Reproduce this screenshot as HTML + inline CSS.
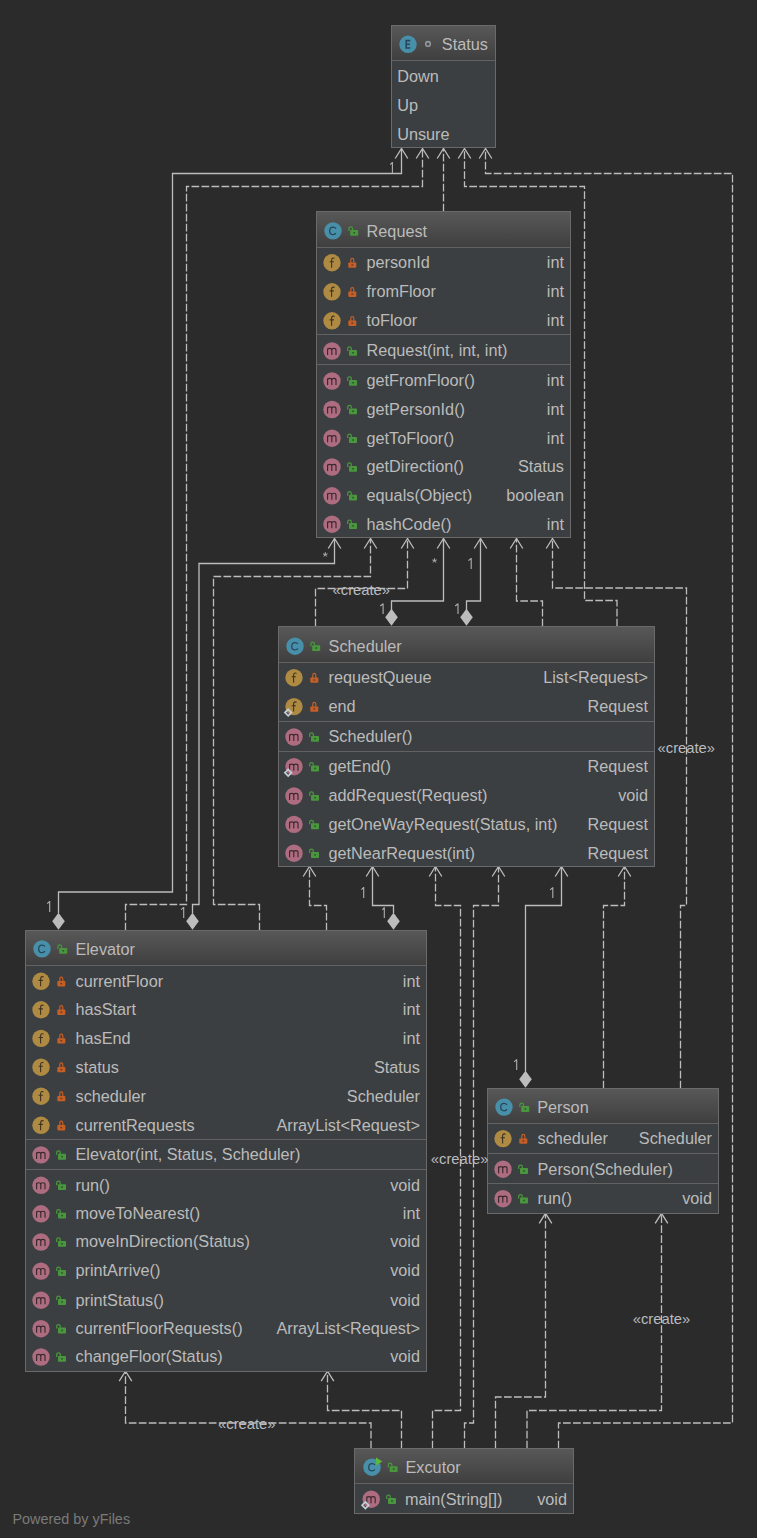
<!DOCTYPE html>
<html><head><meta charset="utf-8"><style>
html,body{margin:0;padding:0;}
body{width:757px;height:1538px;background:#2b2b2b;position:relative;overflow:hidden;font-family:"Liberation Sans",sans-serif;}
.box{position:absolute;box-sizing:border-box;border:1px solid #6a6a6a;background:#3c3f41;}
.hdr{position:absolute;background:linear-gradient(#585858,#3f3f3f);}
.sep{position:absolute;height:1px;background:#626262;}
.t{position:absolute;font-size:16.25px;line-height:20px;color:#bbbbbb;white-space:nowrap;letter-spacing:0px;}
.r{text-align:right;}
.lbl{position:absolute;color:#b9bcc0;line-height:18px;white-space:nowrap;}
svg{position:absolute;left:0;top:0;}
.pw{position:absolute;left:12.5px;top:1510.5px;font-size:14.4px;color:#7a7a7a;line-height:16px;}
</style></head><body>
<svg width="757" height="1538" style="z-index:0"><path d="M58.5 913 L58.5 892 L172.5 892 L172.5 173.5 L401.5 173.5 L401.5 148.5" fill="none" stroke="#bdbdbd" stroke-width="1.3"/><path d="M395.2 158.5 L401.5 148.5 L407.8 158.5" fill="none" stroke="#bdbdbd" stroke-width="1.3"/><path d="M58.5 912.7 L64.8 921.2 L58.5 929.7 L52.2 921.2 Z" fill="#bdbdbd"/><path d="M125.5 930.5 L125.5 904.5 L186.5 904.5 L186.5 186.5 L422.5 186.5 L422.5 148.5" fill="none" stroke="#bdbdbd" stroke-width="1.3" stroke-dasharray="7.7 2.3"/><path d="M416.2 158.5 L422.5 148.5 L428.8 158.5" fill="none" stroke="#bdbdbd" stroke-width="1.3"/><path d="M443.5 211.5 L443.5 148.5" fill="none" stroke="#bdbdbd" stroke-width="1.3" stroke-dasharray="7.7 2.3"/><path d="M437.2 158.5 L443.5 148.5 L449.8 158.5" fill="none" stroke="#bdbdbd" stroke-width="1.3"/><path d="M617 626.5 L617 600.5 L584.5 600.5 L584.5 186.5 L464.5 186.5 L464.5 148.5" fill="none" stroke="#bdbdbd" stroke-width="1.3" stroke-dasharray="7.7 2.3"/><path d="M458.2 158.5 L464.5 148.5 L470.8 158.5" fill="none" stroke="#bdbdbd" stroke-width="1.3"/><path d="M558.5 1448.5 L558.5 1423 L732.5 1423 L732.5 173.5 L485.5 173.5 L485.5 148.5" fill="none" stroke="#bdbdbd" stroke-width="1.3" stroke-dasharray="7.7 2.3"/><path d="M479.2 158.5 L485.5 148.5 L491.8 158.5" fill="none" stroke="#bdbdbd" stroke-width="1.3"/><path d="M192.5 913 L192.5 904.5 L199 904.5 L199 563.5 L334.5 563.5 L334.5 538.5" fill="none" stroke="#bdbdbd" stroke-width="1.3"/><path d="M328.2 548.5 L334.5 538.5 L340.8 548.5" fill="none" stroke="#bdbdbd" stroke-width="1.3"/><path d="M192.5 912.7 L198.8 921.2 L192.5 929.7 L186.2 921.2 Z" fill="#bdbdbd"/><path d="M259.5 930.5 L259.5 904.5 L213.5 904.5 L213.5 576.5 L370.5 576.5 L370.5 538.5" fill="none" stroke="#bdbdbd" stroke-width="1.3" stroke-dasharray="7.7 2.3"/><path d="M364.2 548.5 L370.5 538.5 L376.8 548.5" fill="none" stroke="#bdbdbd" stroke-width="1.3"/><path d="M315.5 626.5 L315.5 588.5 L407.5 588.5 L407.5 538.5" fill="none" stroke="#bdbdbd" stroke-width="1.3" stroke-dasharray="7.7 2.3"/><path d="M401.2 548.5 L407.5 538.5 L413.8 548.5" fill="none" stroke="#bdbdbd" stroke-width="1.3"/><path d="M391.5 610 L391.5 601 L443.5 601 L443.5 538.5" fill="none" stroke="#bdbdbd" stroke-width="1.3"/><path d="M437.2 548.5 L443.5 538.5 L449.8 548.5" fill="none" stroke="#bdbdbd" stroke-width="1.3"/><path d="M391.5 608.7 L397.8 617.2 L391.5 625.7 L385.2 617.2 Z" fill="#bdbdbd"/><path d="M466.5 610 L466.5 601 L480.5 601 L480.5 538.5" fill="none" stroke="#bdbdbd" stroke-width="1.3"/><path d="M474.2 548.5 L480.5 538.5 L486.8 548.5" fill="none" stroke="#bdbdbd" stroke-width="1.3"/><path d="M466.5 608.7 L472.8 617.2 L466.5 625.7 L460.2 617.2 Z" fill="#bdbdbd"/><path d="M542.5 626.5 L542.5 601 L516.5 601 L516.5 538.5" fill="none" stroke="#bdbdbd" stroke-width="1.3" stroke-dasharray="7.7 2.3"/><path d="M510.2 548.5 L516.5 538.5 L522.8 548.5" fill="none" stroke="#bdbdbd" stroke-width="1.3"/><path d="M680.5 1088.5 L680.5 905.5 L686.5 905.5 L686.5 588 L552.5 588 L552.5 538.5" fill="none" stroke="#bdbdbd" stroke-width="1.3" stroke-dasharray="7.7 2.3"/><path d="M546.2 548.5 L552.5 538.5 L558.8 548.5" fill="none" stroke="#bdbdbd" stroke-width="1.3"/><path d="M326.5 930.5 L326.5 905.5 L309.5 905.5 L309.5 866.5" fill="none" stroke="#bdbdbd" stroke-width="1.3" stroke-dasharray="7.7 2.3"/><path d="M303.2 876.5 L309.5 866.5 L315.8 876.5" fill="none" stroke="#bdbdbd" stroke-width="1.3"/><path d="M393.5 913 L393.5 905.5 L372.5 905.5 L372.5 866.5" fill="none" stroke="#bdbdbd" stroke-width="1.3"/><path d="M366.2 876.5 L372.5 866.5 L378.8 876.5" fill="none" stroke="#bdbdbd" stroke-width="1.3"/><path d="M393.5 912.7 L399.8 921.2 L393.5 929.7 L387.2 921.2 Z" fill="#bdbdbd"/><path d="M432.5 1448.5 L432.5 1410.5 L460.5 1410.5 L460.5 905.5 L435.5 905.5 L435.5 866.5" fill="none" stroke="#bdbdbd" stroke-width="1.3" stroke-dasharray="7.7 2.3"/><path d="M429.2 876.5 L435.5 866.5 L441.8 876.5" fill="none" stroke="#bdbdbd" stroke-width="1.3"/><path d="M464.5 1448.5 L464.5 1423 L473.5 1423 L473.5 905.5 L498.5 905.5 L498.5 866.5" fill="none" stroke="#bdbdbd" stroke-width="1.3" stroke-dasharray="7.7 2.3"/><path d="M492.2 876.5 L498.5 866.5 L504.8 876.5" fill="none" stroke="#bdbdbd" stroke-width="1.3"/><path d="M525.5 1071.5 L525.5 905.5 L561.5 905.5 L561.5 866.5" fill="none" stroke="#bdbdbd" stroke-width="1.3"/><path d="M555.2 876.5 L561.5 866.5 L567.8 876.5" fill="none" stroke="#bdbdbd" stroke-width="1.3"/><path d="M525.5 1070.7 L531.8 1079.2 L525.5 1087.7 L519.2 1079.2 Z" fill="#bdbdbd"/><path d="M603.5 1088.5 L603.5 905.5 L624.5 905.5 L624.5 866.5" fill="none" stroke="#bdbdbd" stroke-width="1.3" stroke-dasharray="7.7 2.3"/><path d="M618.2 876.5 L624.5 866.5 L630.8 876.5" fill="none" stroke="#bdbdbd" stroke-width="1.3"/><path d="M495.5 1448.5 L495.5 1397 L545.5 1397 L545.5 1213.3" fill="none" stroke="#bdbdbd" stroke-width="1.3" stroke-dasharray="7.7 2.3"/><path d="M539.2 1223.3 L545.5 1213.3 L551.8 1223.3" fill="none" stroke="#bdbdbd" stroke-width="1.3"/><path d="M527 1448.5 L527 1410.5 L661.5 1410.5 L661.5 1213.3" fill="none" stroke="#bdbdbd" stroke-width="1.3" stroke-dasharray="7.7 2.3"/><path d="M655.2 1223.3 L661.5 1213.3 L667.8 1223.3" fill="none" stroke="#bdbdbd" stroke-width="1.3"/><path d="M371 1448.5 L371 1423 L125.5 1423 L125.5 1371.2" fill="none" stroke="#bdbdbd" stroke-width="1.3" stroke-dasharray="7.7 2.3"/><path d="M119.2 1381.2 L125.5 1371.2 L131.8 1381.2" fill="none" stroke="#bdbdbd" stroke-width="1.3"/><path d="M401.5 1448.5 L401.5 1410.5 L327.5 1410.5 L327.5 1371.2" fill="none" stroke="#bdbdbd" stroke-width="1.3" stroke-dasharray="7.7 2.3"/><path d="M321.2 1381.2 L327.5 1371.2 L333.8 1381.2" fill="none" stroke="#bdbdbd" stroke-width="1.3"/></svg>
<div style="position:absolute;left:0;top:0;width:757px;height:1538px;z-index:1"><div class="box" style="left:391px;top:25px;width:105px;height:123px"></div><div class="hdr" style="left:392px;top:26px;width:103px;height:34px"></div><div class="sep" style="left:392px;top:60px;width:103px"></div><div class="t" style="left:441.8px;top:34.4px">Status</div><div class="t" style="left:397.2px;top:65.89999999999999px">Down</div><div class="t" style="left:397.2px;top:94.89999999999999px">Up</div><div class="t" style="left:397.2px;top:123.89999999999999px">Unsure</div><div class="box" style="left:316px;top:211px;width:255px;height:327px"></div><div class="hdr" style="left:317px;top:212px;width:253px;height:35px"></div><div class="sep" style="left:317px;top:247px;width:253px"></div><div class="t" style="left:366.6px;top:221.0px">Request</div><div class="t" style="left:366.5px;top:252.0px">personId</div><div class="t r" style="right:193px;top:252.0px">int</div><div class="t" style="left:366.5px;top:281.1px">fromFloor</div><div class="t r" style="right:193px;top:281.1px">int</div><div class="t" style="left:366.5px;top:310.1px">toFloor</div><div class="t r" style="right:193px;top:310.1px">int</div><div class="sep" style="left:317px;top:334px;width:253px"></div><div class="t" style="left:366.5px;top:340.3px">Request(int, int, int)</div><div class="sep" style="left:317px;top:364px;width:253px"></div><div class="t" style="left:366.5px;top:370.3px">getFromFloor()</div><div class="t r" style="right:193px;top:370.3px">int</div><div class="t" style="left:366.5px;top:398.8px">getPersonId()</div><div class="t r" style="right:193px;top:398.8px">int</div><div class="t" style="left:366.5px;top:427.5px">getToFloor()</div><div class="t r" style="right:193px;top:427.5px">int</div><div class="t" style="left:366.5px;top:456.3px">getDirection()</div><div class="t r" style="right:193px;top:456.3px">Status</div><div class="t" style="left:366.5px;top:485.1px">equals(Object)</div><div class="t r" style="right:193px;top:485.1px">boolean</div><div class="t" style="left:366.5px;top:513.5px">hashCode()</div><div class="t r" style="right:193px;top:513.5px">int</div><div class="box" style="left:278px;top:626px;width:377px;height:241px"></div><div class="hdr" style="left:279px;top:627px;width:375px;height:35px"></div><div class="sep" style="left:279px;top:662px;width:375px"></div><div class="t" style="left:328.6px;top:636.3px">Scheduler</div><div class="t" style="left:328.5px;top:667.0px">requestQueue</div><div class="t r" style="right:109px;top:667.0px">List&lt;Request&gt;</div><div class="t" style="left:328.5px;top:695.9px">end</div><div class="t r" style="right:109px;top:695.9px">Request</div><div class="sep" style="left:279px;top:721px;width:375px"></div><div class="t" style="left:328.5px;top:726.3px">Scheduler()</div><div class="sep" style="left:279px;top:751px;width:375px"></div><div class="t" style="left:328.5px;top:756.0px">getEnd()</div><div class="t r" style="right:109px;top:756.0px">Request</div><div class="t" style="left:328.5px;top:785.3px">addRequest(Request)</div><div class="t r" style="right:109px;top:785.3px">void</div><div class="t" style="left:328.5px;top:813.6999999999999px">getOneWayRequest(Status, int)</div><div class="t r" style="right:109px;top:813.6999999999999px">Request</div><div class="t" style="left:328.5px;top:842.5px">getNearRequest(int)</div><div class="t r" style="right:109px;top:842.5px">Request</div><div class="box" style="left:25px;top:930px;width:402px;height:442px"></div><div class="hdr" style="left:26px;top:931px;width:400px;height:34px"></div><div class="sep" style="left:26px;top:965px;width:400px"></div><div class="t" style="left:75.4px;top:939.0px">Elevator</div><div class="t" style="left:75.5px;top:970.5999999999999px">currentFloor</div><div class="t r" style="right:337px;top:970.5999999999999px">int</div><div class="t" style="left:75.5px;top:999.0999999999999px">hasStart</div><div class="t r" style="right:337px;top:999.0999999999999px">int</div><div class="t" style="left:75.5px;top:1027.7px">hasEnd</div><div class="t r" style="right:337px;top:1027.7px">int</div><div class="t" style="left:75.5px;top:1056.5px">status</div><div class="t r" style="right:337px;top:1056.5px">Status</div><div class="t" style="left:75.5px;top:1085.5px">scheduler</div><div class="t r" style="right:337px;top:1085.5px">Scheduler</div><div class="t" style="left:75.5px;top:1114.6px">currentRequests</div><div class="t r" style="right:337px;top:1114.6px">ArrayList&lt;Request&gt;</div><div class="sep" style="left:26px;top:1139px;width:400px"></div><div class="t" style="left:75.5px;top:1144.2px">Elevator(int, Status, Scheduler)</div><div class="sep" style="left:26px;top:1169px;width:400px"></div><div class="t" style="left:75.5px;top:1174.6px">run()</div><div class="t r" style="right:337px;top:1174.6px">void</div><div class="t" style="left:75.5px;top:1203.1px">moveToNearest()</div><div class="t r" style="right:337px;top:1203.1px">int</div><div class="t" style="left:75.5px;top:1231.3px">moveInDirection(Status)</div><div class="t r" style="right:337px;top:1231.3px">void</div><div class="t" style="left:75.5px;top:1260.3999999999999px">printArrive()</div><div class="t r" style="right:337px;top:1260.3999999999999px">void</div><div class="t" style="left:75.5px;top:1289.5px">printStatus()</div><div class="t r" style="right:337px;top:1289.5px">void</div><div class="t" style="left:75.5px;top:1318.0px">currentFloorRequests()</div><div class="t r" style="right:337px;top:1318.0px">ArrayList&lt;Request&gt;</div><div class="t" style="left:75.5px;top:1346.3px">changeFloor(Status)</div><div class="t r" style="right:337px;top:1346.3px">void</div><div class="box" style="left:487px;top:1088px;width:232px;height:126px"></div><div class="hdr" style="left:488px;top:1089px;width:230px;height:34px"></div><div class="sep" style="left:488px;top:1123px;width:230px"></div><div class="t" style="left:537.2px;top:1097.2px">Person</div><div class="t" style="left:537.5px;top:1127.8999999999999px">scheduler</div><div class="t r" style="right:45px;top:1127.8999999999999px">Scheduler</div><div class="sep" style="left:488px;top:1153px;width:230px"></div><div class="t" style="left:537.5px;top:1158.5px">Person(Scheduler)</div><div class="sep" style="left:488px;top:1183px;width:230px"></div><div class="t" style="left:537.5px;top:1188.0px">run()</div><div class="t r" style="right:45px;top:1188.0px">void</div><div class="box" style="left:354px;top:1448px;width:220px;height:66px"></div><div class="hdr" style="left:355px;top:1449px;width:218px;height:34px"></div><div class="sep" style="left:355px;top:1483px;width:218px"></div><div class="t" style="left:405.5px;top:1457.3px">Excutor</div><div class="t" style="left:405px;top:1488.5px">main(String[])</div><div class="t r" style="right:190px;top:1488.5px">void</div></div>
<svg width="757" height="1538" style="z-index:2"><circle cx="408" cy="44.3" r="8.7" fill="#4890aa"/><path d="M410.3 40.599999999999994 H406.2 V48.0 H410.3 M406.2 44.199999999999996 H409.9" stroke="#27465a" stroke-width="1.6" fill="none"/><circle cx="428" cy="43.9" r="2.3" stroke="#8f979c" stroke-width="1.6" fill="none"/><circle cx="333" cy="230.9" r="8.7" fill="#4890aa"/><path d="M336.0 228.6 Q335.0 227.20000000000002 333.1 227.20000000000002 Q329.7 227.20000000000002 329.7 230.9 Q329.7 234.6 333.1 234.6 Q335.0 234.6 336.0 233.20000000000002" stroke="#27465a" stroke-width="1.25" fill="none"/><path d="M348.9 230.9 V228.6 Q348.9 226.9 350.7 226.9 Q352.5 226.9 352.5 228.6 V230.1" stroke="#4a963e" stroke-width="1.25" fill="none"/><rect x="350.2" y="229.9" width="8" height="5.9" rx="0.8" fill="#4a963e"/><rect x="353.4" y="232.0" width="1.7" height="1.5" fill="#2c5528"/><circle cx="332" cy="262.7" r="8.7" fill="#ae8a42"/><path d="M334.6 258.4 Q333.8 257.9 333 258.0 Q331.6 258.2 331.6 259.9 V267.7 M329.6 261.8 H333.9" stroke="#3e3422" stroke-width="1.1" fill="none"/><path d="M350.8 263.2 V260.3 Q350.8 258.45 352.3 258.45 Q353.8 258.45 353.8 260.3 V263.2" stroke="#c45f27" stroke-width="1.2" fill="none"/><rect x="348.3" y="262.5" width="8" height="5.3" rx="0.8" fill="#c45f27"/><rect x="351.40000000000003" y="264.3" width="1.8" height="1.4" fill="#6a3a22"/><circle cx="332" cy="291.8" r="8.7" fill="#ae8a42"/><path d="M334.6 287.5 Q333.8 287.0 333 287.1 Q331.6 287.3 331.6 289.0 V296.8 M329.6 290.90000000000003 H333.9" stroke="#3e3422" stroke-width="1.1" fill="none"/><path d="M350.8 292.3 V289.40000000000003 Q350.8 287.55 352.3 287.55 Q353.8 287.55 353.8 289.40000000000003 V292.3" stroke="#c45f27" stroke-width="1.2" fill="none"/><rect x="348.3" y="291.6" width="8" height="5.3" rx="0.8" fill="#c45f27"/><rect x="351.40000000000003" y="293.40000000000003" width="1.8" height="1.4" fill="#6a3a22"/><circle cx="332" cy="320.8" r="8.7" fill="#ae8a42"/><path d="M334.6 316.5 Q333.8 316.0 333 316.1 Q331.6 316.3 331.6 318.0 V325.8 M329.6 319.90000000000003 H333.9" stroke="#3e3422" stroke-width="1.1" fill="none"/><path d="M350.8 321.3 V318.40000000000003 Q350.8 316.55 352.3 316.55 Q353.8 316.55 353.8 318.40000000000003 V321.3" stroke="#c45f27" stroke-width="1.2" fill="none"/><rect x="348.3" y="320.6" width="8" height="5.3" rx="0.8" fill="#c45f27"/><rect x="351.40000000000003" y="322.40000000000003" width="1.8" height="1.4" fill="#6a3a22"/><circle cx="332" cy="351" r="8.7" fill="#ae6c80"/><path d="M327.6 355.0 V348.4 M327.6 350.0 Q327.6 348.4 329.6 348.4 Q331.8 348.4 331.8 350.2 V355.0 M331.8 350.0 Q331.8 348.4 333.8 348.4 Q336.0 348.4 336.0 350.2 V355.0" stroke="#3a282e" stroke-width="1.15" fill="none"/><path d="M347.7 350.9 V348.6 Q347.7 346.9 349.5 346.9 Q351.3 346.9 351.3 348.6 V350.1" stroke="#4a963e" stroke-width="1.25" fill="none"/><rect x="349.0" y="349.9" width="8" height="5.9" rx="0.8" fill="#4a963e"/><rect x="352.2" y="352.0" width="1.7" height="1.5" fill="#2c5528"/><circle cx="332" cy="381" r="8.7" fill="#ae6c80"/><path d="M327.6 385.0 V378.4 M327.6 380.0 Q327.6 378.4 329.6 378.4 Q331.8 378.4 331.8 380.2 V385.0 M331.8 380.0 Q331.8 378.4 333.8 378.4 Q336.0 378.4 336.0 380.2 V385.0" stroke="#3a282e" stroke-width="1.15" fill="none"/><path d="M347.7 380.9 V378.6 Q347.7 376.9 349.5 376.9 Q351.3 376.9 351.3 378.6 V380.1" stroke="#4a963e" stroke-width="1.25" fill="none"/><rect x="349.0" y="379.9" width="8" height="5.9" rx="0.8" fill="#4a963e"/><rect x="352.2" y="382.0" width="1.7" height="1.5" fill="#2c5528"/><circle cx="332" cy="409.5" r="8.7" fill="#ae6c80"/><path d="M327.6 413.5 V406.9 M327.6 408.5 Q327.6 406.9 329.6 406.9 Q331.8 406.9 331.8 408.7 V413.5 M331.8 408.5 Q331.8 406.9 333.8 406.9 Q336.0 406.9 336.0 408.7 V413.5" stroke="#3a282e" stroke-width="1.15" fill="none"/><path d="M347.7 409.4 V407.1 Q347.7 405.4 349.5 405.4 Q351.3 405.4 351.3 407.1 V408.6" stroke="#4a963e" stroke-width="1.25" fill="none"/><rect x="349.0" y="408.4" width="8" height="5.9" rx="0.8" fill="#4a963e"/><rect x="352.2" y="410.5" width="1.7" height="1.5" fill="#2c5528"/><circle cx="332" cy="438.2" r="8.7" fill="#ae6c80"/><path d="M327.6 442.2 V435.59999999999997 M327.6 437.2 Q327.6 435.59999999999997 329.6 435.59999999999997 Q331.8 435.59999999999997 331.8 437.4 V442.2 M331.8 437.2 Q331.8 435.59999999999997 333.8 435.59999999999997 Q336.0 435.59999999999997 336.0 437.4 V442.2" stroke="#3a282e" stroke-width="1.15" fill="none"/><path d="M347.7 438.09999999999997 V435.8 Q347.7 434.09999999999997 349.5 434.09999999999997 Q351.3 434.09999999999997 351.3 435.8 V437.3" stroke="#4a963e" stroke-width="1.25" fill="none"/><rect x="349.0" y="437.09999999999997" width="8" height="5.9" rx="0.8" fill="#4a963e"/><rect x="352.2" y="439.2" width="1.7" height="1.5" fill="#2c5528"/><circle cx="332" cy="467" r="8.7" fill="#ae6c80"/><path d="M327.6 471.0 V464.4 M327.6 466.0 Q327.6 464.4 329.6 464.4 Q331.8 464.4 331.8 466.2 V471.0 M331.8 466.0 Q331.8 464.4 333.8 464.4 Q336.0 464.4 336.0 466.2 V471.0" stroke="#3a282e" stroke-width="1.15" fill="none"/><path d="M347.7 466.9 V464.6 Q347.7 462.9 349.5 462.9 Q351.3 462.9 351.3 464.6 V466.1" stroke="#4a963e" stroke-width="1.25" fill="none"/><rect x="349.0" y="465.9" width="8" height="5.9" rx="0.8" fill="#4a963e"/><rect x="352.2" y="468.0" width="1.7" height="1.5" fill="#2c5528"/><circle cx="332" cy="495.8" r="8.7" fill="#ae6c80"/><path d="M327.6 499.8 V493.2 M327.6 494.8 Q327.6 493.2 329.6 493.2 Q331.8 493.2 331.8 495.0 V499.8 M331.8 494.8 Q331.8 493.2 333.8 493.2 Q336.0 493.2 336.0 495.0 V499.8" stroke="#3a282e" stroke-width="1.15" fill="none"/><path d="M347.7 495.7 V493.40000000000003 Q347.7 491.7 349.5 491.7 Q351.3 491.7 351.3 493.40000000000003 V494.90000000000003" stroke="#4a963e" stroke-width="1.25" fill="none"/><rect x="349.0" y="494.7" width="8" height="5.9" rx="0.8" fill="#4a963e"/><rect x="352.2" y="496.8" width="1.7" height="1.5" fill="#2c5528"/><circle cx="332" cy="524.2" r="8.7" fill="#ae6c80"/><path d="M327.6 528.2 V521.6 M327.6 523.2 Q327.6 521.6 329.6 521.6 Q331.8 521.6 331.8 523.4000000000001 V528.2 M331.8 523.2 Q331.8 521.6 333.8 521.6 Q336.0 521.6 336.0 523.4000000000001 V528.2" stroke="#3a282e" stroke-width="1.15" fill="none"/><path d="M347.7 524.1 V521.8000000000001 Q347.7 520.1 349.5 520.1 Q351.3 520.1 351.3 521.8000000000001 V523.3000000000001" stroke="#4a963e" stroke-width="1.25" fill="none"/><rect x="349.0" y="523.1" width="8" height="5.9" rx="0.8" fill="#4a963e"/><rect x="352.2" y="525.2" width="1.7" height="1.5" fill="#2c5528"/><circle cx="295" cy="646.1999999999999" r="8.7" fill="#4890aa"/><path d="M298.0 643.9 Q297.0 642.4999999999999 295.1 642.4999999999999 Q291.7 642.4999999999999 291.7 646.1999999999999 Q291.7 649.9 295.1 649.9 Q297.0 649.9 298.0 648.4999999999999" stroke="#27465a" stroke-width="1.25" fill="none"/><path d="M310.9 646.1999999999999 V643.9 Q310.9 642.1999999999999 312.7 642.1999999999999 Q314.5 642.1999999999999 314.5 643.9 V645.4" stroke="#4a963e" stroke-width="1.25" fill="none"/><rect x="312.2" y="645.1999999999999" width="8" height="5.9" rx="0.8" fill="#4a963e"/><rect x="315.4" y="647.3" width="1.7" height="1.5" fill="#2c5528"/><circle cx="294" cy="677.7" r="8.7" fill="#ae8a42"/><path d="M296.6 673.4000000000001 Q295.8 672.9000000000001 295 673.0 Q293.6 673.2 293.6 674.9000000000001 V682.7 M291.6 676.8000000000001 H295.9" stroke="#3e3422" stroke-width="1.1" fill="none"/><path d="M312.8 678.2 V675.3000000000001 Q312.8 673.45 314.3 673.45 Q315.8 673.45 315.8 675.3000000000001 V678.2" stroke="#c45f27" stroke-width="1.2" fill="none"/><rect x="310.3" y="677.5" width="8" height="5.3" rx="0.8" fill="#c45f27"/><rect x="313.40000000000003" y="679.3000000000001" width="1.8" height="1.4" fill="#6a3a22"/><circle cx="294" cy="706.6" r="8.7" fill="#ae8a42"/><path d="M296.6 702.3000000000001 Q295.8 701.8000000000001 295 701.9 Q293.6 702.1 293.6 703.8000000000001 V711.6 M291.6 705.7 H295.9" stroke="#3e3422" stroke-width="1.1" fill="none"/><path d="M312.8 707.1 V704.2 Q312.8 702.35 314.3 702.35 Q315.8 702.35 315.8 704.2 V707.1" stroke="#c45f27" stroke-width="1.2" fill="none"/><rect x="310.3" y="706.4" width="8" height="5.3" rx="0.8" fill="#c45f27"/><rect x="313.40000000000003" y="708.2" width="1.8" height="1.4" fill="#6a3a22"/><path d="M288.2 709.3000000000001 L291.5 712.6 L288.2 715.9 L284.9 712.6 Z" stroke="#c3ced6" stroke-width="1.7" fill="none"/><rect x="287.5" y="711.9" width="1.4" height="1.4" fill="#b56a78"/><circle cx="294" cy="737" r="8.7" fill="#ae6c80"/><path d="M289.6 741.0 V734.4 M289.6 736.0 Q289.6 734.4 291.6 734.4 Q293.8 734.4 293.8 736.2 V741.0 M293.8 736.0 Q293.8 734.4 295.8 734.4 Q298.0 734.4 298.0 736.2 V741.0" stroke="#3a282e" stroke-width="1.15" fill="none"/><path d="M309.7 736.9 V734.6 Q309.7 732.9 311.5 732.9 Q313.3 732.9 313.3 734.6 V736.1" stroke="#4a963e" stroke-width="1.25" fill="none"/><rect x="311.0" y="735.9" width="8" height="5.9" rx="0.8" fill="#4a963e"/><rect x="314.2" y="738.0" width="1.7" height="1.5" fill="#2c5528"/><circle cx="294" cy="766.7" r="8.7" fill="#ae6c80"/><path d="M289.6 770.7 V764.1 M289.6 765.7 Q289.6 764.1 291.6 764.1 Q293.8 764.1 293.8 765.9000000000001 V770.7 M293.8 765.7 Q293.8 764.1 295.8 764.1 Q298.0 764.1 298.0 765.9000000000001 V770.7" stroke="#3a282e" stroke-width="1.15" fill="none"/><path d="M309.7 766.6 V764.3000000000001 Q309.7 762.6 311.5 762.6 Q313.3 762.6 313.3 764.3000000000001 V765.8000000000001" stroke="#4a963e" stroke-width="1.25" fill="none"/><rect x="311.0" y="765.6" width="8" height="5.9" rx="0.8" fill="#4a963e"/><rect x="314.2" y="767.7" width="1.7" height="1.5" fill="#2c5528"/><path d="M288.2 769.4000000000001 L291.5 772.7 L288.2 776.0 L284.9 772.7 Z" stroke="#c3ced6" stroke-width="1.7" fill="none"/><rect x="287.5" y="772.0" width="1.4" height="1.4" fill="#b56a78"/><circle cx="294" cy="796" r="8.7" fill="#ae6c80"/><path d="M289.6 800.0 V793.4 M289.6 795.0 Q289.6 793.4 291.6 793.4 Q293.8 793.4 293.8 795.2 V800.0 M293.8 795.0 Q293.8 793.4 295.8 793.4 Q298.0 793.4 298.0 795.2 V800.0" stroke="#3a282e" stroke-width="1.15" fill="none"/><path d="M309.7 795.9 V793.6 Q309.7 791.9 311.5 791.9 Q313.3 791.9 313.3 793.6 V795.1" stroke="#4a963e" stroke-width="1.25" fill="none"/><rect x="311.0" y="794.9" width="8" height="5.9" rx="0.8" fill="#4a963e"/><rect x="314.2" y="797.0" width="1.7" height="1.5" fill="#2c5528"/><circle cx="294" cy="824.4" r="8.7" fill="#ae6c80"/><path d="M289.6 828.4 V821.8 M289.6 823.4 Q289.6 821.8 291.6 821.8 Q293.8 821.8 293.8 823.6 V828.4 M293.8 823.4 Q293.8 821.8 295.8 821.8 Q298.0 821.8 298.0 823.6 V828.4" stroke="#3a282e" stroke-width="1.15" fill="none"/><path d="M309.7 824.3 V822.0 Q309.7 820.3 311.5 820.3 Q313.3 820.3 313.3 822.0 V823.5" stroke="#4a963e" stroke-width="1.25" fill="none"/><rect x="311.0" y="823.3" width="8" height="5.9" rx="0.8" fill="#4a963e"/><rect x="314.2" y="825.4" width="1.7" height="1.5" fill="#2c5528"/><circle cx="294" cy="853.2" r="8.7" fill="#ae6c80"/><path d="M289.6 857.2 V850.6 M289.6 852.2 Q289.6 850.6 291.6 850.6 Q293.8 850.6 293.8 852.4000000000001 V857.2 M293.8 852.2 Q293.8 850.6 295.8 850.6 Q298.0 850.6 298.0 852.4000000000001 V857.2" stroke="#3a282e" stroke-width="1.15" fill="none"/><path d="M309.7 853.1 V850.8000000000001 Q309.7 849.1 311.5 849.1 Q313.3 849.1 313.3 850.8000000000001 V852.3000000000001" stroke="#4a963e" stroke-width="1.25" fill="none"/><rect x="311.0" y="852.1" width="8" height="5.9" rx="0.8" fill="#4a963e"/><rect x="314.2" y="854.2" width="1.7" height="1.5" fill="#2c5528"/><circle cx="42" cy="948.9" r="8.7" fill="#4890aa"/><path d="M45.0 946.6 Q44.0 945.1999999999999 42.1 945.1999999999999 Q38.7 945.1999999999999 38.7 948.9 Q38.7 952.6 42.1 952.6 Q44.0 952.6 45.0 951.1999999999999" stroke="#27465a" stroke-width="1.25" fill="none"/><path d="M57.900000000000006 948.9 V946.6 Q57.900000000000006 944.9 59.7 944.9 Q61.5 944.9 61.5 946.6 V948.1" stroke="#4a963e" stroke-width="1.25" fill="none"/><rect x="59.2" y="947.9" width="8" height="5.9" rx="0.8" fill="#4a963e"/><rect x="62.400000000000006" y="950.0" width="1.7" height="1.5" fill="#2c5528"/><circle cx="41" cy="981.3" r="8.7" fill="#ae8a42"/><path d="M43.6 977.0 Q42.8 976.5 42 976.5999999999999 Q40.6 976.8 40.6 978.5 V986.3 M38.6 980.4 H42.9" stroke="#3e3422" stroke-width="1.1" fill="none"/><path d="M59.8 981.8 V978.9 Q59.8 977.05 61.3 977.05 Q62.8 977.05 62.8 978.9 V981.8" stroke="#c45f27" stroke-width="1.2" fill="none"/><rect x="57.3" y="981.0999999999999" width="8" height="5.3" rx="0.8" fill="#c45f27"/><rect x="60.4" y="982.9" width="1.8" height="1.4" fill="#6a3a22"/><circle cx="41" cy="1009.8" r="8.7" fill="#ae8a42"/><path d="M43.6 1005.5 Q42.8 1005.0 42 1005.0999999999999 Q40.6 1005.3 40.6 1007.0 V1014.8 M38.6 1008.9 H42.9" stroke="#3e3422" stroke-width="1.1" fill="none"/><path d="M59.8 1010.3 V1007.4 Q59.8 1005.55 61.3 1005.55 Q62.8 1005.55 62.8 1007.4 V1010.3" stroke="#c45f27" stroke-width="1.2" fill="none"/><rect x="57.3" y="1009.5999999999999" width="8" height="5.3" rx="0.8" fill="#c45f27"/><rect x="60.4" y="1011.4" width="1.8" height="1.4" fill="#6a3a22"/><circle cx="41" cy="1038.4" r="8.7" fill="#ae8a42"/><path d="M43.6 1034.1000000000001 Q42.8 1033.6000000000001 42 1033.7 Q40.6 1033.9 40.6 1035.6000000000001 V1043.4 M38.6 1037.5 H42.9" stroke="#3e3422" stroke-width="1.1" fill="none"/><path d="M59.8 1038.9 V1036.0 Q59.8 1034.15 61.3 1034.15 Q62.8 1034.15 62.8 1036.0 V1038.9" stroke="#c45f27" stroke-width="1.2" fill="none"/><rect x="57.3" y="1038.2" width="8" height="5.3" rx="0.8" fill="#c45f27"/><rect x="60.4" y="1040.0" width="1.8" height="1.4" fill="#6a3a22"/><circle cx="41" cy="1067.2" r="8.7" fill="#ae8a42"/><path d="M43.6 1062.9 Q42.8 1062.4 42 1062.5 Q40.6 1062.7 40.6 1064.4 V1072.2 M38.6 1066.3 H42.9" stroke="#3e3422" stroke-width="1.1" fill="none"/><path d="M59.8 1067.7 V1064.8 Q59.8 1062.95 61.3 1062.95 Q62.8 1062.95 62.8 1064.8 V1067.7" stroke="#c45f27" stroke-width="1.2" fill="none"/><rect x="57.3" y="1067.0" width="8" height="5.3" rx="0.8" fill="#c45f27"/><rect x="60.4" y="1068.8" width="1.8" height="1.4" fill="#6a3a22"/><circle cx="41" cy="1096.2" r="8.7" fill="#ae8a42"/><path d="M43.6 1091.9 Q42.8 1091.4 42 1091.5 Q40.6 1091.7 40.6 1093.4 V1101.2 M38.6 1095.3 H42.9" stroke="#3e3422" stroke-width="1.1" fill="none"/><path d="M59.8 1096.7 V1093.8 Q59.8 1091.95 61.3 1091.95 Q62.8 1091.95 62.8 1093.8 V1096.7" stroke="#c45f27" stroke-width="1.2" fill="none"/><rect x="57.3" y="1096.0" width="8" height="5.3" rx="0.8" fill="#c45f27"/><rect x="60.4" y="1097.8" width="1.8" height="1.4" fill="#6a3a22"/><circle cx="41" cy="1125.3" r="8.7" fill="#ae8a42"/><path d="M43.6 1121.0 Q42.8 1120.5 42 1120.6 Q40.6 1120.8 40.6 1122.5 V1130.3 M38.6 1124.3999999999999 H42.9" stroke="#3e3422" stroke-width="1.1" fill="none"/><path d="M59.8 1125.8 V1122.8999999999999 Q59.8 1121.05 61.3 1121.05 Q62.8 1121.05 62.8 1122.8999999999999 V1125.8" stroke="#c45f27" stroke-width="1.2" fill="none"/><rect x="57.3" y="1125.1" width="8" height="5.3" rx="0.8" fill="#c45f27"/><rect x="60.4" y="1126.8999999999999" width="1.8" height="1.4" fill="#6a3a22"/><circle cx="41" cy="1154.9" r="8.7" fill="#ae6c80"/><path d="M36.6 1158.9 V1152.3000000000002 M36.6 1153.9 Q36.6 1152.3000000000002 38.6 1152.3000000000002 Q40.8 1152.3000000000002 40.8 1154.1000000000001 V1158.9 M40.8 1153.9 Q40.8 1152.3000000000002 42.8 1152.3000000000002 Q45.0 1152.3000000000002 45.0 1154.1000000000001 V1158.9" stroke="#3a282e" stroke-width="1.15" fill="none"/><path d="M56.7 1154.8000000000002 V1152.5 Q56.7 1150.8000000000002 58.5 1150.8000000000002 Q60.3 1150.8000000000002 60.3 1152.5 V1154.0" stroke="#4a963e" stroke-width="1.25" fill="none"/><rect x="58.0" y="1153.8000000000002" width="8" height="5.9" rx="0.8" fill="#4a963e"/><rect x="61.2" y="1155.9" width="1.7" height="1.5" fill="#2c5528"/><circle cx="41" cy="1185.3" r="8.7" fill="#ae6c80"/><path d="M36.6 1189.3 V1182.7 M36.6 1184.3 Q36.6 1182.7 38.6 1182.7 Q40.8 1182.7 40.8 1184.5 V1189.3 M40.8 1184.3 Q40.8 1182.7 42.8 1182.7 Q45.0 1182.7 45.0 1184.5 V1189.3" stroke="#3a282e" stroke-width="1.15" fill="none"/><path d="M56.7 1185.2 V1182.8999999999999 Q56.7 1181.2 58.5 1181.2 Q60.3 1181.2 60.3 1182.8999999999999 V1184.3999999999999" stroke="#4a963e" stroke-width="1.25" fill="none"/><rect x="58.0" y="1184.2" width="8" height="5.9" rx="0.8" fill="#4a963e"/><rect x="61.2" y="1186.3" width="1.7" height="1.5" fill="#2c5528"/><circle cx="41" cy="1213.8" r="8.7" fill="#ae6c80"/><path d="M36.6 1217.8 V1211.2 M36.6 1212.8 Q36.6 1211.2 38.6 1211.2 Q40.8 1211.2 40.8 1213.0 V1217.8 M40.8 1212.8 Q40.8 1211.2 42.8 1211.2 Q45.0 1211.2 45.0 1213.0 V1217.8" stroke="#3a282e" stroke-width="1.15" fill="none"/><path d="M56.7 1213.7 V1211.3999999999999 Q56.7 1209.7 58.5 1209.7 Q60.3 1209.7 60.3 1211.3999999999999 V1212.8999999999999" stroke="#4a963e" stroke-width="1.25" fill="none"/><rect x="58.0" y="1212.7" width="8" height="5.9" rx="0.8" fill="#4a963e"/><rect x="61.2" y="1214.8" width="1.7" height="1.5" fill="#2c5528"/><circle cx="41" cy="1242" r="8.7" fill="#ae6c80"/><path d="M36.6 1246.0 V1239.4 M36.6 1241.0 Q36.6 1239.4 38.6 1239.4 Q40.8 1239.4 40.8 1241.2 V1246.0 M40.8 1241.0 Q40.8 1239.4 42.8 1239.4 Q45.0 1239.4 45.0 1241.2 V1246.0" stroke="#3a282e" stroke-width="1.15" fill="none"/><path d="M56.7 1241.9 V1239.6 Q56.7 1237.9 58.5 1237.9 Q60.3 1237.9 60.3 1239.6 V1241.1" stroke="#4a963e" stroke-width="1.25" fill="none"/><rect x="58.0" y="1240.9" width="8" height="5.9" rx="0.8" fill="#4a963e"/><rect x="61.2" y="1243.0" width="1.7" height="1.5" fill="#2c5528"/><circle cx="41" cy="1271.1" r="8.7" fill="#ae6c80"/><path d="M36.6 1275.1 V1268.5 M36.6 1270.1 Q36.6 1268.5 38.6 1268.5 Q40.8 1268.5 40.8 1270.3 V1275.1 M40.8 1270.1 Q40.8 1268.5 42.8 1268.5 Q45.0 1268.5 45.0 1270.3 V1275.1" stroke="#3a282e" stroke-width="1.15" fill="none"/><path d="M56.7 1271.0 V1268.6999999999998 Q56.7 1267.0 58.5 1267.0 Q60.3 1267.0 60.3 1268.6999999999998 V1270.1999999999998" stroke="#4a963e" stroke-width="1.25" fill="none"/><rect x="58.0" y="1270.0" width="8" height="5.9" rx="0.8" fill="#4a963e"/><rect x="61.2" y="1272.1" width="1.7" height="1.5" fill="#2c5528"/><circle cx="41" cy="1300.2" r="8.7" fill="#ae6c80"/><path d="M36.6 1304.2 V1297.6000000000001 M36.6 1299.2 Q36.6 1297.6000000000001 38.6 1297.6000000000001 Q40.8 1297.6000000000001 40.8 1299.4 V1304.2 M40.8 1299.2 Q40.8 1297.6000000000001 42.8 1297.6000000000001 Q45.0 1297.6000000000001 45.0 1299.4 V1304.2" stroke="#3a282e" stroke-width="1.15" fill="none"/><path d="M56.7 1300.1000000000001 V1297.8 Q56.7 1296.1000000000001 58.5 1296.1000000000001 Q60.3 1296.1000000000001 60.3 1297.8 V1299.3" stroke="#4a963e" stroke-width="1.25" fill="none"/><rect x="58.0" y="1299.1000000000001" width="8" height="5.9" rx="0.8" fill="#4a963e"/><rect x="61.2" y="1301.2" width="1.7" height="1.5" fill="#2c5528"/><circle cx="41" cy="1328.7" r="8.7" fill="#ae6c80"/><path d="M36.6 1332.7 V1326.1000000000001 M36.6 1327.7 Q36.6 1326.1000000000001 38.6 1326.1000000000001 Q40.8 1326.1000000000001 40.8 1327.9 V1332.7 M40.8 1327.7 Q40.8 1326.1000000000001 42.8 1326.1000000000001 Q45.0 1326.1000000000001 45.0 1327.9 V1332.7" stroke="#3a282e" stroke-width="1.15" fill="none"/><path d="M56.7 1328.6000000000001 V1326.3 Q56.7 1324.6000000000001 58.5 1324.6000000000001 Q60.3 1324.6000000000001 60.3 1326.3 V1327.8" stroke="#4a963e" stroke-width="1.25" fill="none"/><rect x="58.0" y="1327.6000000000001" width="8" height="5.9" rx="0.8" fill="#4a963e"/><rect x="61.2" y="1329.7" width="1.7" height="1.5" fill="#2c5528"/><circle cx="41" cy="1357" r="8.7" fill="#ae6c80"/><path d="M36.6 1361.0 V1354.4 M36.6 1356.0 Q36.6 1354.4 38.6 1354.4 Q40.8 1354.4 40.8 1356.2 V1361.0 M40.8 1356.0 Q40.8 1354.4 42.8 1354.4 Q45.0 1354.4 45.0 1356.2 V1361.0" stroke="#3a282e" stroke-width="1.15" fill="none"/><path d="M56.7 1356.9 V1354.6 Q56.7 1352.9 58.5 1352.9 Q60.3 1352.9 60.3 1354.6 V1356.1" stroke="#4a963e" stroke-width="1.25" fill="none"/><rect x="58.0" y="1355.9" width="8" height="5.9" rx="0.8" fill="#4a963e"/><rect x="61.2" y="1358.0" width="1.7" height="1.5" fill="#2c5528"/><circle cx="504" cy="1107.1000000000001" r="8.7" fill="#4890aa"/><path d="M507.0 1104.8000000000002 Q506.0 1103.4 504.1 1103.4 Q500.7 1103.4 500.7 1107.1000000000001 Q500.7 1110.8000000000002 504.1 1110.8000000000002 Q506.0 1110.8000000000002 507.0 1109.4" stroke="#27465a" stroke-width="1.25" fill="none"/><path d="M519.9000000000001 1107.1000000000001 V1104.8 Q519.9000000000001 1103.1000000000001 521.7 1103.1000000000001 Q523.5 1103.1000000000001 523.5 1104.8 V1106.3" stroke="#4a963e" stroke-width="1.25" fill="none"/><rect x="521.2" y="1106.1000000000001" width="8" height="5.9" rx="0.8" fill="#4a963e"/><rect x="524.4000000000001" y="1108.2" width="1.7" height="1.5" fill="#2c5528"/><circle cx="503" cy="1138.6" r="8.7" fill="#ae8a42"/><path d="M505.6 1134.3 Q504.8 1133.8 504 1133.8999999999999 Q502.6 1134.1 502.6 1135.8 V1143.6 M500.6 1137.6999999999998 H504.9" stroke="#3e3422" stroke-width="1.1" fill="none"/><path d="M521.8 1139.1 V1136.1999999999998 Q521.8 1134.35 523.3 1134.35 Q524.8 1134.35 524.8 1136.1999999999998 V1139.1" stroke="#c45f27" stroke-width="1.2" fill="none"/><rect x="519.3" y="1138.3999999999999" width="8" height="5.3" rx="0.8" fill="#c45f27"/><rect x="522.4" y="1140.1999999999998" width="1.8" height="1.4" fill="#6a3a22"/><circle cx="503" cy="1169.2" r="8.7" fill="#ae6c80"/><path d="M498.6 1173.2 V1166.6000000000001 M498.6 1168.2 Q498.6 1166.6000000000001 500.6 1166.6000000000001 Q502.8 1166.6000000000001 502.8 1168.4 V1173.2 M502.8 1168.2 Q502.8 1166.6000000000001 504.8 1166.6000000000001 Q507.0 1166.6000000000001 507.0 1168.4 V1173.2" stroke="#3a282e" stroke-width="1.15" fill="none"/><path d="M518.7 1169.1000000000001 V1166.8 Q518.7 1165.1000000000001 520.5 1165.1000000000001 Q522.3 1165.1000000000001 522.3 1166.8 V1168.3" stroke="#4a963e" stroke-width="1.25" fill="none"/><rect x="520.0" y="1168.1000000000001" width="8" height="5.9" rx="0.8" fill="#4a963e"/><rect x="523.2" y="1170.2" width="1.7" height="1.5" fill="#2c5528"/><circle cx="503" cy="1198.7" r="8.7" fill="#ae6c80"/><path d="M498.6 1202.7 V1196.1000000000001 M498.6 1197.7 Q498.6 1196.1000000000001 500.6 1196.1000000000001 Q502.8 1196.1000000000001 502.8 1197.9 V1202.7 M502.8 1197.7 Q502.8 1196.1000000000001 504.8 1196.1000000000001 Q507.0 1196.1000000000001 507.0 1197.9 V1202.7" stroke="#3a282e" stroke-width="1.15" fill="none"/><path d="M518.7 1198.6000000000001 V1196.3 Q518.7 1194.6000000000001 520.5 1194.6000000000001 Q522.3 1194.6000000000001 522.3 1196.3 V1197.8" stroke="#4a963e" stroke-width="1.25" fill="none"/><rect x="520.0" y="1197.6000000000001" width="8" height="5.9" rx="0.8" fill="#4a963e"/><rect x="523.2" y="1199.7" width="1.7" height="1.5" fill="#2c5528"/><circle cx="372" cy="1467.2" r="8.7" fill="#4890aa"/><path d="M375.0 1464.9 Q374.0 1463.5 372.1 1463.5 Q368.7 1463.5 368.7 1467.2 Q368.7 1470.9 372.1 1470.9 Q374.0 1470.9 375.0 1469.5" stroke="#27465a" stroke-width="1.25" fill="none"/><path d="M388.3 1467.2 V1464.8999999999999 Q388.3 1463.2 390.1 1463.2 Q391.90000000000003 1463.2 391.90000000000003 1464.8999999999999 V1466.3999999999999" stroke="#4a963e" stroke-width="1.25" fill="none"/><rect x="389.6" y="1466.2" width="8" height="5.9" rx="0.8" fill="#4a963e"/><rect x="392.8" y="1468.3" width="1.7" height="1.5" fill="#2c5528"/><circle cx="371.2" cy="1499.2" r="8.7" fill="#ae6c80"/><path d="M366.8 1503.2 V1496.6000000000001 M366.8 1498.2 Q366.8 1496.6000000000001 368.8 1496.6000000000001 Q371.0 1496.6000000000001 371.0 1498.4 V1503.2 M371.0 1498.2 Q371.0 1496.6000000000001 373.0 1496.6000000000001 Q375.2 1496.6000000000001 375.2 1498.4 V1503.2" stroke="#3a282e" stroke-width="1.15" fill="none"/><path d="M386.7 1499.1000000000001 V1496.8 Q386.7 1495.1000000000001 388.5 1495.1000000000001 Q390.3 1495.1000000000001 390.3 1496.8 V1498.3" stroke="#4a963e" stroke-width="1.25" fill="none"/><rect x="388.0" y="1498.1000000000001" width="8" height="5.9" rx="0.8" fill="#4a963e"/><rect x="391.2" y="1500.2" width="1.7" height="1.5" fill="#2c5528"/><path d="M365.4 1501.9 L368.7 1505.2 L365.4 1508.5 L362.09999999999997 1505.2 Z" stroke="#c3ced6" stroke-width="1.7" fill="none"/><rect x="364.7" y="1504.5" width="1.4" height="1.4" fill="#b56a78"/><path d="M375.9 1457.2 L382.29999999999995 1461.4 L375.9 1465.4 Z" fill="#5cb83a"/></svg>
<div style="position:absolute;left:0;top:0;z-index:3"><div class="lbl" style="left:332.5px;top:581.1px;font-size:14.8px">«create»</div><div class="lbl" style="left:657.5px;top:738.9000000000001px;font-size:14.8px">«create»</div><div class="lbl" style="left:430.8px;top:1150.1000000000001px;font-size:14.8px">«create»</div><div class="lbl" style="left:632.7px;top:1310.0px;font-size:14.8px">«create»</div><div class="lbl" style="left:218px;top:1415.0px;font-size:14.8px">«create»</div></div>
<svg width="757" height="1538" style="z-index:4"><path d="M390.3 164.6 L392.4 162.4 M392.4 162 V173" stroke="#b0b0b0" stroke-width="1.1" fill="none"/><path d="M47.199999999999996 903.6 L49.699999999999996 901.4 M49.699999999999996 901 V912" stroke="#b0b0b0" stroke-width="1.1" fill="none"/><path d="M325.29999999999995 554.5999999999999 L325.30 552.20 M325.29999999999995 554.5999999999999 L327.58 553.86 M325.29999999999995 554.5999999999999 L326.71 556.54 M325.29999999999995 554.5999999999999 L323.89 556.54 M325.29999999999995 554.5999999999999 L323.02 553.86 " stroke="#b0b0b0" stroke-width="1" fill="none"/><path d="M181.10000000000002 909.6 L183.70000000000002 907.4 M183.70000000000002 907 V918" stroke="#b0b0b0" stroke-width="1.1" fill="none"/><path d="M434.54999999999995 560.65 L434.55 558.30 M434.54999999999995 560.65 L436.78 559.92 M434.54999999999995 560.65 L435.93 562.55 M434.54999999999995 560.65 L433.17 562.55 M434.54999999999995 560.65 L432.32 559.92 " stroke="#b0b0b0" stroke-width="1" fill="none"/><path d="M380.3 606.0 L383.09999999999997 603.8 M383.09999999999997 603.4 V614" stroke="#b0b0b0" stroke-width="1.1" fill="none"/><path d="M468.40000000000003 560.6 L471.2 558.4 M471.2 558 V569" stroke="#b0b0b0" stroke-width="1.1" fill="none"/><path d="M455.2 606.0 L458.0 603.8 M458.0 603.4 V614" stroke="#b0b0b0" stroke-width="1.1" fill="none"/><path d="M361.40000000000003 889.6 L363.7 887.4 M363.7 887 V898" stroke="#b0b0b0" stroke-width="1.1" fill="none"/><path d="M382.40000000000003 909.8000000000001 L384.29999999999995 907.6 M384.29999999999995 907.2 V917.9" stroke="#b0b0b0" stroke-width="1.1" fill="none"/><path d="M550.1999999999999 889.9 L552.8 887.6999999999999 M552.8 887.3 V898" stroke="#b0b0b0" stroke-width="1.1" fill="none"/><path d="M514.1999999999999 1061.8 L516.6999999999999 1059.6000000000001 M516.6999999999999 1059.2 V1070" stroke="#b0b0b0" stroke-width="1.1" fill="none"/></svg>
<div class="pw">Powered by yFiles</div>
</body></html>
